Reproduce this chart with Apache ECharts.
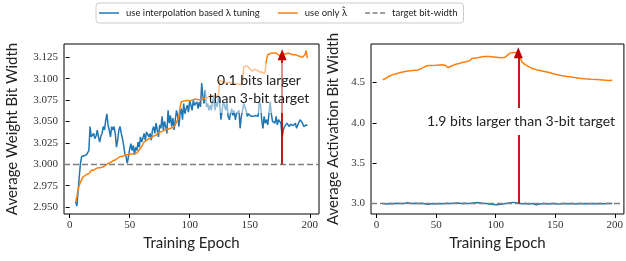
<!DOCTYPE html>
<html lang="en">
<head>
    <meta charset="utf-8">
    <title>Bit width during training</title>
    <script src="https://cdn.jsdelivr.net/npm/echarts@6.0.0/dist/echarts.min.js"></script>
    <style>
        body { margin: 0; background: #fff; }
        #chart { width: 626px; height: 261px; }
    </style>
</head>
<body>
<div id="chart"></div>
<script>
    // left panel: average weight bit width, blue starts at epoch 5, one value per epoch
    const weightInterpStart = 5;
    const weightInterp = [
        2.956, 2.951, 2.968, 2.985, 3.001, 3.009, 3.008, 3.010, 3.009, 3.011,
        3.012, 3.016, 3.044, 3.032, 3.030, 3.036, 3.030, 3.033, 3.040, 3.032,
        3.026, 3.033, 3.036, 3.044, 3.040, 3.051, 3.059, 3.046, 3.040, 3.032,
        3.044, 3.040, 3.044, 3.036, 3.020, 3.028, 3.040, 3.044, 3.036, 3.030,
        3.022, 3.012, 3.009, 3.001, 3.009, 3.018, 3.024, 3.016, 3.022, 3.011,
        3.020, 3.016, 3.026, 3.020, 3.032, 3.026, 3.030, 3.036, 3.028, 3.038,
        3.040, 3.032, 3.036, 3.028, 3.040, 3.044, 3.036, 3.048, 3.040, 3.032,
        3.046, 3.042, 3.056, 3.040, 3.050, 3.044, 3.036, 3.063, 3.048, 3.057,
        3.044, 3.054, 3.040, 3.052, 3.063, 3.056, 3.044, 3.059, 3.065, 3.052,
        3.071, 3.059, 3.065, 3.069, 3.061, 3.075, 3.069, 3.063, 3.075, 3.069,
        3.067, 3.073, 3.065, 3.073, 3.067, 3.095, 3.079, 3.071, 3.087, 3.067,
        3.071, 3.063, 3.069, 3.063, 3.073, 3.079, 3.063, 3.073, 3.067, 3.079,
        3.071, 3.052, 3.063, 3.073, 3.069, 3.063, 3.073, 3.056, 3.052, 3.059,
        3.065, 3.057, 3.063, 3.052, 3.059, 3.057, 3.063, 3.042, 3.056, 3.063,
        3.071, 3.073, 3.063, 3.056, 3.059, 3.061, 3.056, 3.057, 3.056, 3.054,
        3.057, 3.059, 3.056, 3.073, 3.069, 3.052, 3.042, 3.056, 3.048, 3.052,
        3.046, 3.059, 3.073, 3.059, 3.050, 3.052, 3.048, 3.056, 3.046, 3.052,
        3.050, 3.048, 3.032, 3.040, 3.044, 3.046, 3.048, 3.046, 3.044, 3.047,
        3.046, 3.045, 3.044, 3.048, 3.042, 3.046, 3.044, 3.052, 3.054, 3.048,
        3.044, 3.042, 3.046, 3.045
    ];
    const weightOnlyEpochs = [
        5, 6, 7, 8, 9, 10, 11, 12, 14, 15, 16, 17, 18, 20, 22, 24, 26, 28, 30, 32,
        34, 36, 38, 40, 42, 44, 46, 48, 50, 52, 54, 56, 58, 60, 62, 64, 66, 68, 70, 72,
        74, 76, 78, 80, 82, 84, 86, 88, 90, 91, 92, 93, 94, 96, 98, 100, 102, 104, 106, 108,
        110, 112, 114, 116, 118, 120, 122, 124, 125, 126, 128, 130, 132, 134, 136, 138, 140, 142, 144, 145,
        146, 148, 150, 152, 154, 156, 158, 160, 162, 163, 164, 165, 166, 168, 170, 172, 174, 176, 177, 178,
        180, 182, 184, 186, 188, 190, 192, 194, 196, 197, 198
    ];
    const weightOnly = [
        2.956, 2.962, 2.970, 2.975, 2.979, 2.982, 2.985, 2.986, 2.988, 2.989, 2.989, 2.991, 2.993, 2.993, 2.995, 2.996, 2.996, 2.997, 2.999, 3.001,
        3.002, 3.004, 3.005, 3.007, 3.009, 3.009, 3.011, 3.011, 3.012, 3.012, 3.0125, 3.013, 3.017, 3.021, 3.026, 3.028, 3.030, 3.031, 3.033, 3.034,
        3.037, 3.038, 3.039, 3.041, 3.041, 3.042, 3.043, 3.046, 3.052, 3.057, 3.067, 3.073, 3.074, 3.074, 3.075, 3.074, 3.075, 3.076, 3.076, 3.075,
        3.076, 3.077, 3.077, 3.079, 3.080, 3.080, 3.079, 3.081, 3.098, 3.098, 3.096, 3.095, 3.096, 3.095, 3.095, 3.094, 3.094, 3.093, 3.095, 3.114,
        3.116, 3.115, 3.112, 3.109, 3.111, 3.110, 3.108, 3.108, 3.106, 3.110, 3.122, 3.128, 3.130, 3.130, 3.130, 3.130, 3.128, 3.126, 3.124, 3.129,
        3.129, 3.130, 3.129, 3.128, 3.128, 3.127, 3.126, 3.125, 3.128, 3.133, 3.124
    ];

    // right panel: average activation bit width
    const actOnlyEpochs = [
        5, 8, 10, 15, 20, 25, 30, 35, 40, 42, 45, 50, 55, 58, 60, 62, 65, 70, 72, 75,
        78, 80, 85, 90, 95, 100, 105, 108, 110, 112, 115, 118, 119, 120, 122, 125, 130, 135, 140, 145,
        150, 155, 160, 165, 170, 175, 180, 185, 190, 195, 198
    ];
    const actOnly = [
        4.533, 4.554, 4.575, 4.604, 4.624, 4.641, 4.649, 4.657, 4.691, 4.707, 4.711, 4.715, 4.720, 4.711, 4.686, 4.699, 4.720, 4.740, 4.749, 4.757,
        4.769, 4.798, 4.807, 4.823, 4.823, 4.815, 4.807, 4.815, 4.840, 4.865, 4.873, 4.873, 4.865, 4.832, 4.757, 4.720, 4.678, 4.657, 4.641, 4.624,
        4.604, 4.587, 4.575, 4.566, 4.554, 4.546, 4.541, 4.537, 4.533, 4.525, 4.529
    ];
    const actInterpEpochs = [
        5, 8, 11, 14, 17, 20, 23, 26, 29, 32, 35, 38, 41, 44, 47, 50, 53, 56, 59, 62,
        65, 68, 71, 74, 77, 80, 83, 86, 89, 92, 95, 98, 101, 104, 107, 110, 113, 116, 119, 122,
        125, 128, 131, 134, 137, 140, 143, 146, 149, 152, 155, 158, 161, 164, 167, 170, 173, 176, 179, 182,
        185, 188, 191, 194, 198
    ];
    const actInterp = [
        3.000, 2.995, 3.002, 2.998, 3.005, 3.000, 3.002, 3.010, 3.002, 3.005, 3.000, 3.003, 2.995, 2.993, 3.002, 2.995, 3.000, 2.998, 3.003, 3.000,
        3.005, 3.008, 3.002, 3.003, 3.000, 3.005, 3.010, 3.012, 3.005, 3.002, 2.995, 2.990, 2.985, 2.992, 2.998, 3.005, 3.012, 3.015, 3.005, 2.998,
        3.000, 2.995, 3.000, 2.985, 2.995, 3.000, 2.995, 2.998, 3.000, 2.995, 2.998, 3.002, 2.997, 3.000, 2.996, 3.001, 2.998, 3.000, 2.997, 3.000,
        2.998, 3.001, 2.999, 3.000, 3.000
    ];

    const targetBits = 3.0;
    const weightArrow = { epoch: 177, top: 3.128 };
    const actArrow = { epoch: 119, top: 4.87 };
    const xTicks = [0, 50, 100, 150, 200];
    const weightTicks = [2.950, 2.975, 3.000, 3.025, 3.050, 3.075, 3.100, 3.125];
    const actTicks = [3.0, 3.5, 4.0, 4.5];

    const names = ['use interpolation based \u03bb tuning', 'use only \u03bb\u0302', 'target bit-width'];
    const blue = '#1f77b4', orange = '#ff7f0e', grey = '#7f7f7f', arrowRed = '#c00000';
    const sans = 'Lato, "DejaVu Sans", sans-serif';
    const serif = '"Liberation Serif", "DejaVu Serif", serif';

    // legend icons: plain strokes, dashed for the target
    const solidIcon = 'path://M0,0H20V1.5H0Z';
    const dashIcon = 'path://M0,0H5V1.5H0Z M7.5,0H12.5V1.5H7.5Z M15,0H20V1.5H15Z';

    function pairs(xs, ys) {
        return ys.map(function (v, i) { return [xs[i], v]; });
    }

    const weightInterpData = weightInterp.map(function (v, i) { return [weightInterpStart + i, v]; });

    function xAxis(grid) {
        return {
            type: 'value', gridIndex: grid, min: -4.7, max: 207.7,
            name: 'Training Epoch', nameLocation: 'middle', nameGap: 22,
            nameTextStyle: { fontFamily: sans, fontSize: 15, color: '#222' },
            axisLine: { show: false },
            splitLine: { show: false },
            axisTick: { customValues: xTicks, length: 4, lineStyle: { color: '#000' } },
            axisLabel: { customValues: xTicks, fontFamily: serif, fontSize: 11, color: '#333', margin: 6 }
        };
    }

    function yAxis(grid, name, min, max, ticks, digits, gap) {
        return {
            type: 'value', gridIndex: grid, min: min, max: max,
            name: name, nameLocation: 'middle', nameGap: gap,
            nameTextStyle: { fontFamily: sans, fontSize: 15, color: '#222' },
            axisLine: { show: false },
            splitLine: { show: false },
            axisTick: { customValues: ticks, length: 4, lineStyle: { color: '#000' } },
            axisLabel: {
                customValues: ticks, fontFamily: serif, fontSize: 11, color: '#333', margin: 6,
                formatter: function (v) { return v.toFixed(digits); }
            }
        };
    }

    function arrowLine(a) {
        return {
            silent: true, symbol: ['none', 'triangle'], symbolSize: [9, 11],
            lineStyle: { color: arrowRed, width: 1.8, type: 'solid' },
            label: { show: false },
            data: [[{ coord: [a.epoch, targetBits] }, { coord: [a.epoch, a.top] }]]
        };
    }

    function lineSeries(name, grid, data, color, extra) {
        const s = {
            name: name, type: 'line', xAxisIndex: grid, yAxisIndex: grid,
            data: data, showSymbol: false, symbol: 'none', animation: false,
            lineStyle: { color: color, width: 1.5 }, itemStyle: { color: color }
        };
        return Object.assign(s, extra || {});
    }

    function targetSeries(grid) {
        return {
            name: names[2], type: 'line', xAxisIndex: grid, yAxisIndex: grid, data: [],
            symbol: 'none', animation: false,
            lineStyle: { color: grey, width: 1.3, type: [6, 3] }, itemStyle: { color: grey },
            markLine: {
                silent: true, symbol: 'none', label: { show: false },
                lineStyle: { color: grey, width: 1.3, type: [6, 3] },
                data: [{ yAxis: targetBits }]
            }
        };
    }

    const chart = echarts.init(document.getElementById('chart'), null, { renderer: 'canvas' });
    chart.setOption({
        animation: false,
        legend: {
            data: [
                { name: names[0], icon: solidIcon },
                { name: names[1], icon: solidIcon },
                { name: names[2], icon: dashIcon }
            ],
            left: 96, top: 3,
            padding: [5, 6, 5, 3], itemGap: 18, itemWidth: 20, itemHeight: 1.5,
            borderColor: '#ccc', borderWidth: 1, borderRadius: 3,
            textStyle: { fontFamily: sans, fontSize: 9.5, color: '#222', padding: [0, 0, 0, 2] }
        },
        grid: [
            { left: 64, top: 44, width: 255, height: 170, show: true, borderColor: '#000', borderWidth: 1 },
            { left: 371, top: 44, width: 254, height: 170, show: true, borderColor: '#000', borderWidth: 1 }
        ],
        xAxis: [xAxis(0), xAxis(1)],
        yAxis: [
            yAxis(0, 'Average Weight Bit Width', 2.9418, 3.1406, weightTicks, 3, 44),
            yAxis(1, 'Average Activation Bit Width', 2.871, 4.978, actTicks, 1, 30)
        ],
        series: [
            lineSeries(names[0], 0, weightInterpData, blue),
            lineSeries(names[1], 0, pairs(weightOnlyEpochs, weightOnly), orange),
            targetSeries(0),
            lineSeries('arrowL', 0, [], arrowRed, { markLine: arrowLine(weightArrow) }),
            lineSeries(names[0], 1, pairs(actInterpEpochs, actInterp), blue),
            lineSeries(names[1], 1, pairs(actOnlyEpochs, actOnly), orange),
            targetSeries(1),
            lineSeries('arrowR', 1, [], arrowRed, { markLine: arrowLine(actArrow) })
        ],
        graphic: [
            { type: 'rect', z: 50, shape: { x: 205, y: 63, width: 107, height: 50 }, style: { fill: 'rgba(255,255,255,0.5)' } },
            {
                type: 'text', z: 51, x: 259, y: 80,
                style: { text: '0.1 bits larger', fontFamily: sans, fontSize: 14, fill: '#222', align: 'center', verticalAlign: 'middle' }
            },
            {
                type: 'text', z: 51, x: 259, y: 98,
                style: { text: 'than 3-bit target', fontFamily: sans, fontSize: 14, fill: '#222', align: 'center', verticalAlign: 'middle' }
            },
            { type: 'rect', z: 50, shape: { x: 426, y: 108, width: 190, height: 27 }, style: { fill: '#fff' } },
            {
                type: 'text', z: 51, x: 521, y: 121,
                style: { text: '1.9 bits larger than 3-bit target', fontFamily: sans, fontSize: 14, fill: '#222', align: 'center', verticalAlign: 'middle' }
            }
        ]
    });
</script>
</body>
</html>
